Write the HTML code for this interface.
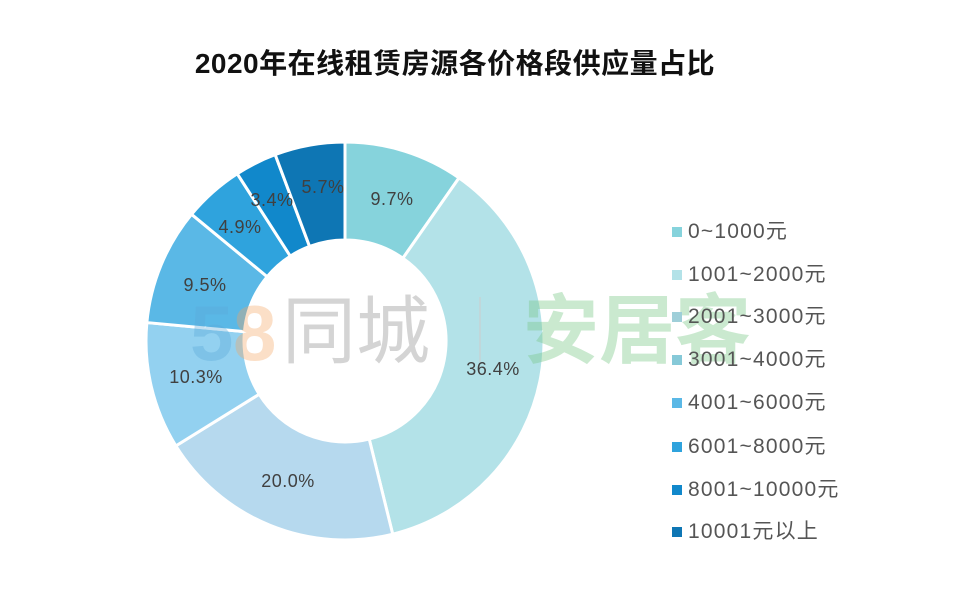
<!DOCTYPE html>
<html><head><meta charset="utf-8"><style>
body{margin:0;background:#fff;width:968px;height:615px;overflow:hidden;position:relative;font-family:"Liberation Sans","Noto Sans CJK SC",sans-serif}
.t{position:absolute;left:0;width:910px;top:42px;text-align:center;font-weight:bold;font-size:28px;color:#111;letter-spacing:0.5px}
.lg{position:absolute;left:672px;font-size:21px;color:#555;line-height:24px;letter-spacing:1.2px}
.lg i{display:inline-block;width:10px;height:10px;margin-right:6px;vertical-align:1px}
</style></head><body>
<div class="t">2020年在线租赁房源各价格段供应量占比</div>
<svg id="s" width="968" height="615" style="position:absolute;left:0;top:0"></svg>
<div class="lg" style="top:220px"><i style="background:#86d3dc"></i>0~1000元</div>
<div class="lg" style="top:263px"><i style="background:#b3e2e8"></i>1001~2000元</div>
<div class="lg" style="top:305px"><i style="background:#9fcfd9"></i>2001~3000元</div>
<div class="lg" style="top:348px"><i style="background:#86c9d8"></i>3001~4000元</div>
<div class="lg" style="top:391px"><i style="background:#5ab8e6"></i>4001~6000元</div>
<div class="lg" style="top:435px"><i style="background:#2fa3dd"></i>6001~8000元</div>
<div class="lg" style="top:478px"><i style="background:#1188cb"></i>8001~10000元</div>
<div class="lg" style="top:520px"><i style="background:#0e76b4"></i>10001元以上</div>
<script>
var d=[[9.7,'#86d3dc'],[36.4,'#b3e2e8'],[20.0,'#b6d9ee'],[10.3,'#93d1f0'],[9.5,'#5ab8e6'],[4.9,'#2fa3dd'],[3.4,'#1188cb'],[5.7,'#0e76b4']];
var cx=345,cy=341,R=199,r=101,a=0,h='',tot=99.9;
function p(ang,rad){var t=ang/tot*2*Math.PI;return [cx+rad*Math.sin(t),cy-rad*Math.cos(t)];}
d.forEach(function(s){var b=a+s[0],A=p(a,R),B=p(b,R),C=p(b,r),D=p(a,r),l=s[0]>tot/2?1:0;
h+='<path d="M'+A+'A'+R+','+R+' 0 '+l+' 1 '+B+'L'+C+'A'+r+','+r+' 0 '+l+' 0 '+D+'Z" fill="'+s[1]+'" stroke="#fff" stroke-width="3"/>';a=b;});
h+='<text x="190" y="360" font-size="78" fill="#5aa9d8" opacity="0.35" font-family="Liberation Sans" font-weight="bold">5</text>';
h+='<text x="233" y="360" font-size="78" fill="#f4a460" opacity="0.35" font-family="Liberation Sans" font-weight="bold">8</text>';
h+='<text x="282" y="357" font-size="74" fill="#aaa" opacity="0.5" font-family="Noto Sans CJK SC">同城</text>';
h+='<line x1="480" y1="297" x2="480" y2="362" stroke="#ccc"/>';
h+='<text x="523" y="357" font-size="76" fill="#7cc98a" opacity="0.4" font-family="Noto Sans CJK SC" font-weight="bold">安居客</text>';
[['9.7%',392,199],['36.4%',493,369],['20.0%',288,481],['10.3%',196,377],['9.5%',205,285],['4.9%',240,227],['3.4%',272,200],['5.7%',323,187]].forEach(function(t){
h+='<text x="'+t[1]+'" y="'+(t[2]+6)+'" text-anchor="middle" font-size="18" fill="#404040" font-family="Liberation Sans" letter-spacing="0.5">'+t[0]+'</text>';});
document.getElementById('s').innerHTML=h;
</script>
</body></html>
